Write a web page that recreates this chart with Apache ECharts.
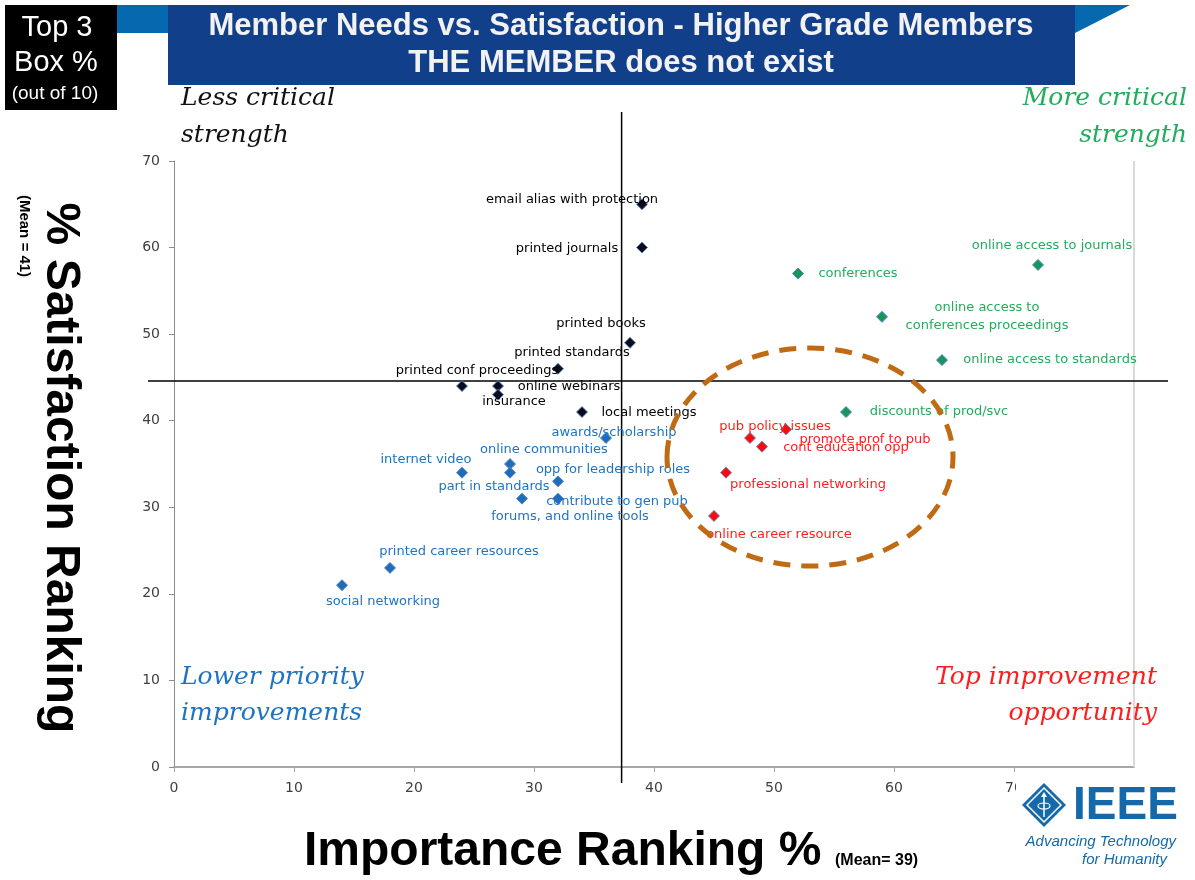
<!DOCTYPE html>
<html>
<head>
<meta charset="utf-8">
<script src="https://cdn.jsdelivr.net/npm/echarts@6/dist/echarts.min.js"></script>
<style>
  html, body { margin: 0; padding: 0; background: #fff; }
  #main { width: 1195px; height: 880px; }
</style>
</head>
<body>
<div id="main"></div>
<script>
// quadrant: less critical strength (black)
var lessNames = ["email alias with protection", "printed journals", "printed books", "printed standards",
  "printed conf proceedings", "online webinars", "insurance", "local meetings"];
var lessX = [39, 39, 38, 32, 24, 27, 27, 34];
var lessY = [65, 60, 49, 46, 44, 44, 43, 41];

// quadrant: lower priority improvements (blue)
var lowNames = ["awards/scholarship", "online communities", "internet video", "opp for leadership roles",
  "part in standards", "contribute to gen pub", "forums, and online tools", "printed career resources",
  "social networking"];
var lowX = [36, 28, 24, 32, 28, 32, 29, 18, 14];
var lowY = [38, 35, 34, 33, 34, 31, 31, 23, 21];

// quadrant: more critical strength (green)
var moreNames = ["online access to journals", "conferences", "online access to\nconferences proceedings",
  "online access to standards", "discounts of prod/svc"];
var moreX = [72, 52, 59, 64, 56];
var moreY = [58, 57, 52, 47, 41];

// quadrant: top improvement opportunity (red)
var topNames = ["pub policy issues", "promote prof to pub", "cont education opp", "professional networking",
  "online career resource"];
var topX = [48, 51, 49, 46, 45];
var topY = [38, 39, 37, 34, 29];

var xTicks = [0, 10, 20, 30, 40, 50, 60, 70, 80];
var yTicks = [0, 10, 20, 30, 40, 50, 60, 70];

// where the quadrant cross lines sit
var crossX = 37.3;
var crossY = 44.6;

// label placement (offset from the marker centre), kept apart from the data
var lessOffsets = [[-70, -5], [-75, 1], [-29, -19], [14, -16], [15, -15], [71, 1], [16, 7], [67, 1]];
var lowOffsets = [[8, -5], [34, -14], [-36, -13], [55, -12], [-16, 14], [59, 3], [48, 18], [69, -16], [41, 16]];
var moreOffsets = [[14, -19], [60, 0], [105, 0], [108, 0], [93, 0]];
var topOffsets = [[25, -11], [79, 10], [84, 1], [82, 12], [65, 19]];

var CHART = echarts.init(document.getElementById("main"), null, { renderer: "canvas" });

function makeSeries(name, names, xs, ys, offsets, fill, textColor) {
  return {
    name: name,
    type: "scatter",
    symbol: "diamond",
    symbolSize: 11,
    itemStyle: { color: fill, borderColor: "#5B86C0", borderWidth: 1, opacity: 1 },
    label: {
      show: true,
      position: "inside",
      formatter: "{b}",
      color: textColor,
      fontFamily: "DejaVu Sans",
      fontSize: 13,
      lineHeight: 18,
      align: "center",
      verticalAlign: "middle",
    },
    emphasis: { disabled: true },
    data: names.map(function (n, i) {
      return { name: n, value: [xs[i], ys[i]], label: { offset: offsets[i] } };
    }),
  };
}

var axisFont = { color: "#404040", fontFamily: "DejaVu Sans", fontSize: 14 };

var CHART_OPTION = {
  animation: false,
  grid: { left: 174, right: 61, top: 161, bottom: 113 },
  xAxis: {
    type: "value",
    min: xTicks[0],
    max: xTicks[xTicks.length - 1],
    interval: 10,
    splitLine: { show: false },
    axisLine: { show: true, onZero: false, lineStyle: { color: "#A6A6A6", width: 2 } },
    axisTick: { show: true, length: 5, lineStyle: { color: "#A6A6A6" } },
    axisLabel: Object.assign({ margin: 14, showMaxLabel: false }, axisFont),
  },
  yAxis: {
    type: "value",
    min: yTicks[0],
    max: yTicks[yTicks.length - 1],
    interval: 10,
    splitLine: { show: false },
    axisLine: { show: true, onZero: false, lineStyle: { color: "#8C8C8C", width: 1 } },
    axisTick: { show: true, length: 5, lineStyle: { color: "#8C8C8C" } },
    axisLabel: Object.assign({ margin: 14 }, axisFont),
  },
  series: [
    makeSeries("less", lessNames, lessX, lessY, lessOffsets, "#0B0B1E", "#000000"),
    makeSeries("low", lowNames, lowX, lowY, lowOffsets, "#1F6CB8", "#1E74C2"),
    makeSeries("more", moreNames, moreX, moreY, moreOffsets, "#16965A", "#22AC5C"),
    makeSeries("top", topNames, topX, topY, topOffsets, "#FF0A0A", "#FF1E1E"),
  ],
};
CHART.setOption(CHART_OPTION);

// decorations that depend on the axes
function px(x, y) {
  return CHART.convertToPixel({ gridIndex: 0 }, [x, y]);
}
var origin = px(0, 0);
var corner = px(80, 70);
var vx = px(crossX, 0)[0];
var hy = px(0, crossY)[1];
var ellipseCenter = px(53, 35.8);

function txt(x, y, text, font, color, align, extra) {
  return Object.assign({
    type: "text",
    x: x,
    y: y,
    z: 30,
    style: { text: text, font: font, fill: color, align: align || "left", verticalAlign: "middle" },
  }, extra || {});
}

var serifItalic = "italic 25px 'DejaVu Serif'";

var graphics = [
  // banner
  { type: "rect", z: 1, shape: { x: 117, y: 5, width: 958, height: 28 }, style: { fill: "#0668AE" } },
  { type: "polygon", z: 1, shape: { points: [[1075, 5], [1130, 5], [1075, 33]] }, style: { fill: "#0668AE" } },
  { type: "rect", z: 2, shape: { x: 168, y: 5, width: 907, height: 80 }, style: { fill: "#123F8A" } },
  txt(621, 26, "Member Needs vs. Satisfaction - Higher Grade Members", "bold 31px 'Liberation Sans'", "#F2F2F2", "center"),
  txt(621, 63, "THE MEMBER does not exist", "bold 31px 'Liberation Sans'", "#F2F2F2", "center"),
  // black box
  { type: "rect", z: 2, shape: { x: 5, y: 5, width: 112, height: 105 }, style: { fill: "#000" } },
  txt(57, 28, "Top 3", "29px 'Liberation Sans'", "#fff", "center"),
  txt(56, 63, "Box %", "29px 'Liberation Sans'", "#fff", "center"),
  txt(55, 94, "(out of 10)", "19px 'Liberation Sans'", "#fff", "center"),
  // quadrant captions
  txt(181, 98, "Less critical", serifItalic, "#111", "left"),
  txt(181, 135, "strength", serifItalic, "#111", "left"),
  txt(1187, 98, "More critical", serifItalic, "#22AC5C", "right"),
  txt(1187, 135, "strength", serifItalic, "#22AC5C", "right"),
  txt(181, 677, "Lower priority", serifItalic, "#1E74C2", "left"),
  txt(181, 713, "improvements", serifItalic, "#1E74C2", "left"),
  txt(1157, 677, "Top improvement", serifItalic, "#FF1E1E", "right"),
  txt(1157, 713, "opportunity", serifItalic, "#FF1E1E", "right"),
  // axis titles
  txt(304, 852, "Importance Ranking %", "bold 48px 'Liberation Sans'", "#000", "left"),
  txt(835, 861, "(Mean= 39)", "bold 16px 'Liberation Sans'", "#000", "left"),
  txt(60, 468, "% Satisfaction Ranking", "bold 48px 'Liberation Sans'", "#000", "center", { rotation: -Math.PI / 2 }),
  txt(24, 236, "(Mean = 41)", "bold 15px 'Liberation Sans'", "#000", "center", { rotation: -Math.PI / 2 }),
  // right border of the plot
  { type: "line", z: 1, shape: { x1: corner[0], y1: corner[1], x2: corner[0], y2: origin[1] }, style: { stroke: "#D9D9D9", lineWidth: 2 } },
  // quadrant cross lines
  { type: "line", z: 1, shape: { x1: vx, y1: corner[1] - 49, x2: vx, y2: origin[1] + 16 }, style: { stroke: "#000", lineWidth: 1.5 } },
  { type: "line", z: 1, shape: { x1: origin[0] - 26, y1: hy, x2: corner[0] + 34, y2: hy }, style: { stroke: "#000", lineWidth: 1.5 } },
  // dashed ring round the improvement group
  {
    type: "ellipse", z: 10,
    shape: { cx: ellipseCenter[0], cy: ellipseCenter[1], rx: 143, ry: 109 },
    style: { fill: null, stroke: "#C06A14", lineWidth: 5, lineDash: [17, 11] },
  },
  // IEEE logo
  { type: "rect", z: 20, shape: { x: 1016, y: 773, width: 179, height: 107 }, style: { fill: "#fff" } },
  { type: "polygon", z: 21, shape: { points: [[1044, 783], [1066, 805], [1044, 827], [1022, 805]] }, style: { fill: "#1469AA" } },
  { type: "polygon", z: 22, shape: { points: [[1044, 788], [1061, 805], [1044, 822], [1027, 805]] }, style: { fill: null, stroke: "#fff", lineWidth: 1.5 } },
  { type: "line", z: 22, shape: { x1: 1044, y1: 794, x2: 1044, y2: 817 }, style: { stroke: "#fff", lineWidth: 1.5 } },
  { type: "ellipse", z: 22, shape: { cx: 1044, cy: 806, rx: 6, ry: 3 }, style: { fill: null, stroke: "#fff", lineWidth: 1.2 } },
  { type: "polygon", z: 22, shape: { points: [[1041, 797], [1044, 792], [1047, 797]] }, style: { fill: "#fff" } },
  txt(1073, 806, "IEEE", "bold 46px 'Liberation Sans'", "#1469AA", "left", { z: 22 }),
  txt(1176, 842, "Advancing Technology", "italic 15px 'Liberation Sans'", "#1469AA", "right", { z: 22 }),
  txt(1167, 860, "for Humanity", "italic 15px 'Liberation Sans'", "#1469AA", "right", { z: 22 }),
];

CHART.setOption({ graphic: graphics });
</script>
</body>
</html>
